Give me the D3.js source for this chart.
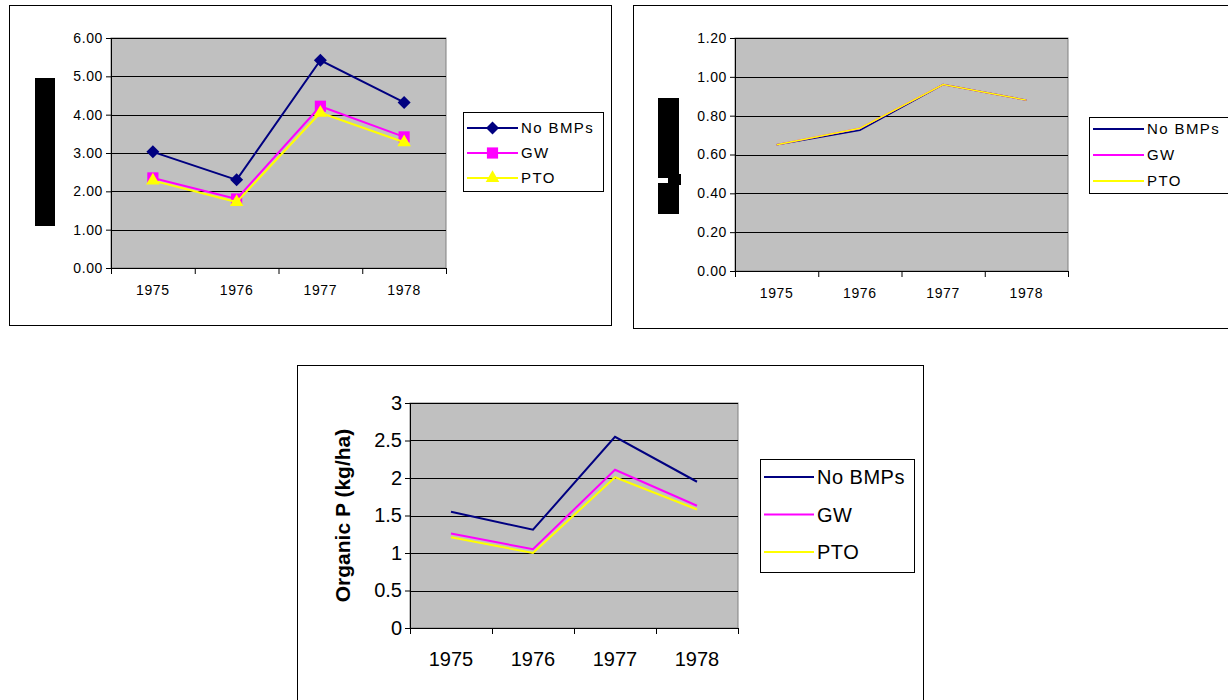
<html>
<head>
<title>Organic P charts</title>
<style>
  body { margin: 0; background: #fff; }
  text { font-family: "Liberation Sans", Arial, sans-serif; }
</style>
</head>
<body>
<svg id="container" width="1228" height="700"></svg>
<script src="https://d3js.org/d3.v7.min.js"></script>
<script>
// data
let years = ["1975", "1976", "1977", "1978"]
let seriesNames = ["No BMPs", "GW", "PTO"]
let seriesColors = ["#000080", "#ff00ff", "#ffff00"]

let topLeftNoBmps = [3.03, 2.30, 5.42, 4.32]
let topLeftGw = [2.35, 1.80, 4.22, 3.42]
let topLeftPto = [2.28, 1.72, 4.05, 3.28]
let topLeftTicks = [0, 1, 2, 3, 4, 5, 6]

let topRightNoBmps = [0.65, 0.725, 0.96, 0.88]
let topRightGw = [0.65, 0.735, 0.96, 0.88]
let topRightPto = [0.65, 0.735, 0.96, 0.88]
let topRightTicks = [0, 0.2, 0.4, 0.6, 0.8, 1.0, 1.2]

let bottomNoBmps = [1.55, 1.31, 2.55, 1.95]
let bottomGw = [1.26, 1.05, 2.11, 1.63]
let bottomPto = [1.21, 1.00, 2.01, 1.58]
let bottomTicks = [0, 0.5, 1, 1.5, 2, 2.5, 3]

let svg = d3.select("#container")

// excel style markers: diamond is a square turned 45 degrees
let markerDefs = [
    { type: d3.symbolSquare, size: 85, rot: 45 },
    { type: d3.symbolSquare, size: 125, rot: 0 },
    { type: d3.symbolTriangle, size: 80, rot: 0 }
]

function drawPanel(p) {
    // outer frame
    svg.append("rect")
        .attr("x", p.frame[0] + 0.5).attr("y", p.frame[1] + 0.5)
        .attr("width", p.frame[2]).attr("height", p.frame[3])
        .attr("fill", "white").attr("stroke", "black")

    let g = svg.append("g").attr("transform", `translate(${p.left},${p.top})`)
    let x = d3.scaleBand().domain(years).range([0, p.w]).padding(0)
    let y = d3.scaleLinear().domain([0, d3.max(p.ticks)]).range([p.h, 0])

    g.append("rect").attr("width", p.w).attr("height", p.h)
        .attr("fill", "#c0c0c0").attr("stroke", "#808080")

    g.selectAll(".grid").data(p.ticks.slice(1))
        .join("line")
        .attr("x1", 0).attr("x2", p.w)
        .attr("y1", d => Math.round(y(d)) + 0.5).attr("y2", d => Math.round(y(d)) + 0.5)
        .attr("stroke", "black")

    let yAxis = g.append("g")
        .call(d3.axisLeft(y).tickValues(p.ticks).tickSize(5).tickPadding(3)
              .tickFormat(d => d3.format(p.fmt)(d)))
    yAxis.select(".domain").attr("stroke", "black")
    yAxis.selectAll("text").attr("font-size", p.fs).attr("fill", "black")
        .attr("letter-spacing", p.ls)
        .attr("font-family", "Liberation Sans, Arial, sans-serif")

    // x axis: ticks on category boundaries, labels centred in bands
    let xb = d3.scaleLinear().domain([0, years.length]).range([0, p.w])
    let xAxis = g.append("g").attr("transform", `translate(0,${p.h})`)
        .call(d3.axisBottom(xb).tickValues(d3.range(years.length + 1)).tickSize(6).tickFormat(""))
    xAxis.select(".domain").attr("stroke", "black")
    g.selectAll(".xl").data(years).join("text")
        .attr("x", d => x(d) + x.bandwidth() / 2)
        .attr("y", p.h + p.xlab)
        .attr("text-anchor", "middle")
        .attr("font-size", p.fs)
        .attr("letter-spacing", p.ls)
        .text(d => d)

    let line = d3.line().x((d, i) => x(years[i]) + x.bandwidth() / 2).y(d => y(d))
    p.series.forEach((vals, k) => {
        g.append("path").datum(vals)
            .attr("d", line).attr("fill", "none")
            .attr("stroke", seriesColors[k]).attr("stroke-width", p.lw)
        if (p.markers) {
            let m = markerDefs[k]
            g.selectAll(".m" + k).data(vals).join("path")
                .attr("transform", (d, i) => `translate(${x(years[i]) + x.bandwidth() / 2},${y(d)}) rotate(${m.rot})`)
                .attr("d", d3.symbol().type(m.type).size(m.size))
                .attr("fill", seriesColors[k])
        }
    })

    if (p.title) {
        g.append("text")
            .attr("transform", `translate(${p.titleX},${p.h / 2}) rotate(-90)`)
            .attr("text-anchor", "middle")
            .attr("font-size", p.titleFs).attr("font-weight", "bold")
            .text(p.title)
    }

    // legend
    let L = p.legend
    svg.append("rect")
        .attr("x", L.x + 0.5).attr("y", L.y + 0.5).attr("width", L.w).attr("height", L.h)
        .attr("fill", "white").attr("stroke", "black")
    seriesNames.forEach((name, k) => {
        let cy = L.y + L.first + k * L.step
        svg.append("line")
            .attr("x1", L.x + 4).attr("x2", L.x + 4 + L.len)
            .attr("y1", cy).attr("y2", cy)
            .attr("stroke", seriesColors[k]).attr("stroke-width", L.lw)
        if (p.markers) {
            let m = markerDefs[k]
            svg.append("path")
                .attr("transform", `translate(${L.x + 4 + L.len / 2},${cy}) rotate(${m.rot})`)
                .attr("d", d3.symbol().type(m.type).size(m.size))
                .attr("fill", seriesColors[k])
        }
        svg.append("text")
            .attr("x", L.x + 7 + L.len).attr("y", cy)
            .attr("dy", "0.35em")
            .attr("font-size", L.fs)
            .attr("letter-spacing", L.ls)
            .text(name)
    })
}

drawPanel({
    frame: [9, 5, 602, 320], left: 111, top: 38, w: 335, h: 230,
    ticks: topLeftTicks, fmt: ".2f", fs: 14, ls: 0.6, xlab: 27, lw: 2,
    series: [topLeftNoBmps, topLeftGw, topLeftPto],
    markers: true,
    legend: { x: 463, y: 112, w: 140, h: 79, first: 16, step: 25, len: 51, fs: 15, ls: 1.4, lw: 2 }
})

drawPanel({
    frame: [633, 5, 600, 323], left: 735, top: 38, w: 333, h: 233,
    ticks: topRightTicks, fmt: ".2f", fs: 14, ls: 0.6, xlab: 27, lw: 1.5,
    series: [topRightNoBmps, topRightGw, topRightPto],
    legend: { x: 1089, y: 117, w: 145, h: 76, first: 12, step: 26, len: 51, fs: 15, ls: 1.4, lw: 2 }
})

drawPanel({
    frame: [297, 365, 626, 340], left: 410, top: 403, w: 328, h: 225,
    ticks: bottomTicks, fmt: "", fs: 20, ls: 0, xlab: 38, lw: 2,
    series: [bottomNoBmps, bottomGw, bottomPto],
    title: "Organic P (kg/ha)", titleX: -60, titleFs: 21,
    legend: { x: 760, y: 459, w: 154, h: 113, first: 18, step: 37.5, len: 50, fs: 20, ls: 0.5, lw: 2 }
})

// the black blocks sitting where the top y-axis titles were
svg.append("rect").attr("x", 35).attr("y", 78).attr("width", 20).attr("height", 148).attr("fill", "black")
svg.append("rect").attr("x", 658).attr("y", 98).attr("width", 21).attr("height", 116).attr("fill", "black")
svg.append("rect").attr("x", 668).attr("y", 174).attr("width", 13).attr("height", 11).attr("fill", "black")
svg.append("rect").attr("x", 658).attr("y", 178).attr("width", 10).attr("height", 5).attr("fill", "white")
</script>
</body>
</html>
